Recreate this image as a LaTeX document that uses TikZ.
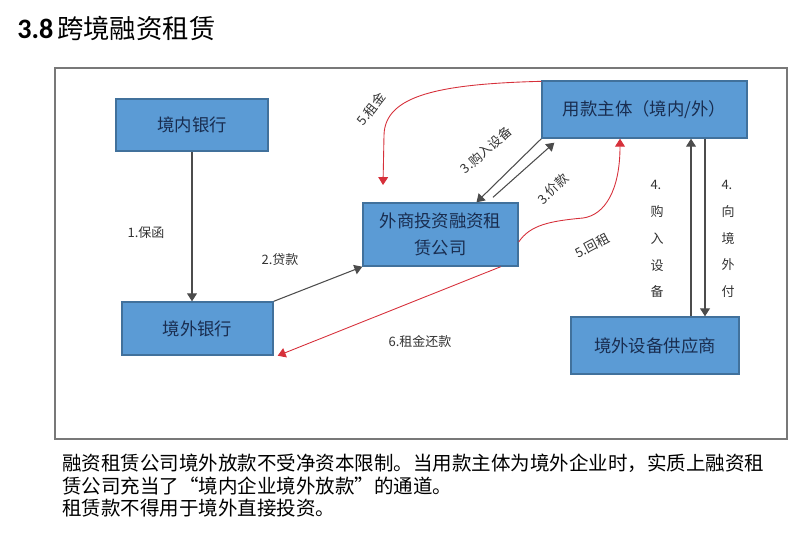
\documentclass[tikz,border=0pt]{standalone}
\usepackage{fontspec}
\setmainfont{Noto Sans CJK SC}
\newfontfamily\numfont{Carlito}
\usetikzlibrary{arrows.meta, positioning, calc}
\definecolor{boxblue}{RGB}{91,155,213}
\definecolor{boxedge}{RGB}{65,113,156}
\definecolor{boxtext}{RGB}{25,45,80}
\definecolor{flowred}{RGB}{214,48,58}
\definecolor{framegray}{RGB}{120,120,120}

\begin{document}
\begin{tikzpicture}[x=0.02cm, y=-0.02cm,
        box/.style={rectangle, draw=boxedge, line width=0.8pt, fill=boxblue, align=center, text=boxtext, inner sep=0pt, font=\fontsize{9.9}{15.3}\selectfont},
        lbl/.style={inner sep=0pt, text=black!80, font=\fontsize{7.4}{15.3}\selectfont},
        note/.style={anchor=west, inner sep=0pt, font=\fontsize{11.1}{13}\selectfont},
        flow/.style={-{Triangle[length=4.5pt, width=5.6pt]}, draw=black!70, line width=0.6pt},
        back/.style={-{Triangle[length=4.5pt, width=5.6pt]}, draw=flowred, line width=0.5pt},
    ]
        \useasboundingbox (0,0) rectangle (800,532);

        % Title and frame
        \node[anchor=west, inner sep=0pt] (title) at (17,28) {{\numfont\bfseries\fontsize{16}{18}\selectfont 3.8} \fontsize{15}{18}\selectfont 跨境融资租赁};
        \draw[framegray, line width=0.7pt] (55,68) rectangle (787,439);

        % Parties
        \node[box, minimum width=3.04cm, minimum height=1.04cm] (bankin)   at (192,125)     {境内银行};
        \node[box, minimum width=3.02cm, minimum height=1.06cm] (bankout)  at (197.5,328.5) {境外银行};
        \node[box, minimum width=3.10cm, minimum height=1.26cm] (lessor)   at (440.5,234.5) {外商投资融资租\\赁公司};
        \node[box, minimum width=4.10cm, minimum height=1.14cm] (user)     at (644.5,109.5) {用款主体（境内/外）};
        \node[box, minimum width=3.36cm, minimum height=1.14cm] (supplier) at (655,345.5)   {境外设备供应商};

        % Free ends
        \coordinate (rentend)  at (383,185);
        \coordinate (buyfoot)  at ([xshift=0.72cm]supplier.north);
        \coordinate (payfoot)  at ([xshift=1.0cm]supplier.north);

        % Black flows
        \draw[flow] (bankin.south) -- (bankin.south |- bankout.north);
        \draw[flow] (bankout.north east) -- (lessor.south west);
        \draw[flow] (user.south west) -- ([xshift=0.72cm]lessor.north);
        \draw[flow] ([xshift=1.05cm, yshift=0.1cm]lessor.north) -- ([xshift=0.26cm, yshift=-0.08cm]user.south west);
        \draw[flow] (buyfoot) -- (buyfoot |- user.south);
        \draw[flow] (payfoot |- user.south) -- (payfoot);

        % Red flows
        \draw[back] ([xshift=-0.36cm]lessor.south east) -- ([xshift=0.08cm]bankout.south east);
        \draw[back] ([yshift=-0.02cm]user.north west) .. controls (440,84) and (385,95) .. (384,135) -- (rentend);
        \draw[back] ([yshift=-0.15cm]lessor.east) .. controls (530,225) and (550,221) .. (583,218)
            .. controls (605,215) and (620,190) .. ([xshift=-0.49cm]user.south);

        % Labels
        \node[lbl] (l1) at (146,233) {1.保函};
        \node[lbl] (l2) at (280,260) {2.贷款};
        \node[lbl] (l6) at (420,342) {6.租金还款};
        \node[lbl, rotate=42] (l3a) at (486,150) {3.购入设备};
        \node[lbl, rotate=44] (l3b) at (553,189) {3.价款};
        \node[lbl, rotate=52] (l5a) at (371,109) {5.租金};
        \node[lbl, rotate=28] (l5b) at (592,246) {5.回租};
        \node[lbl, align=left] (l4a) at (657,239) {4.\\购\\入\\设\\备};
        \node[lbl, align=left] (l4b) at (728,239) {4.\\向\\境\\外\\付};

        % Notes
        \node[note] (note1) at (62,463) {融资租赁公司境外放款不受净资本限制。当用款主体为境外企业时，实质上融资租};
        \node[note] (note2) at (62,486) {赁公司充当了“境内企业境外放款”的通道。};
        \node[note] (note3) at (62,508) {租赁款不得用于境外直接投资。};
    \end{tikzpicture}
\end{document}
